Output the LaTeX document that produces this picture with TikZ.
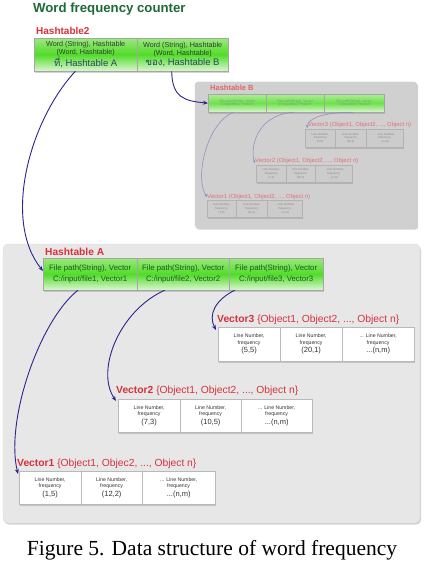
\documentclass[tikz,border=0pt]{standalone}
\usepackage{fontspec}
\setmainfont{Liberation Sans}
\newfontfamily\thaifont[Script=Thai]{Loma}
\newfontfamily\capfont{Liberation Serif}
\usetikzlibrary{shadows,calc,arrows.meta}
\definecolor{titlegreen}{RGB}{30,105,55}
\definecolor{lblred}{RGB}{215,50,60}
\definecolor{arrblue}{RGB}{45,35,140}
\definecolor{gTop}{RGB}{155,232,125}
\definecolor{gMid}{RGB}{82,220,42}
\definecolor{gBot}{RGB}{222,246,212}
\definecolor{panelA}{RGB}{231,231,231}
\definecolor{panelB}{RGB}{208,208,208}
\definecolor{txtA}{RGB}{25,90,30}
\definecolor{txtH}{RGB}{45,60,50}
\definecolor{txtH3}{RGB}{40,70,100}
\newcommand{\fsz}[1]{\fontsize{#1}{#1}\selectfont}
\begin{document}
\begin{tikzpicture}[x=1pt,y=-1pt,
  shad/.style={drop shadow={shadow xshift=1.2pt,shadow yshift=-1.6pt,opacity=0.35}},
  gcell/.style={draw=gray!70, line width=0.3pt, anchor=north west, inner sep=0pt, align=center,
     top color=gTop, bottom color=gBot, middle color=gMid, shad},
  gcellB/.style={draw=gray!70, line width=0.3pt, anchor=north west, inner sep=0pt, align=center,
     top color=gTop!80!white, bottom color=gBot, middle color=gMid!85!white, shad, text=txtA!60,
     font=\fsz{3.4}},
  vcell/.style={draw=gray!55, line width=0.3pt, fill=white, anchor=north west, inner sep=0pt, align=center, shad,
     font=\fontsize{5.2}{6.4}\selectfont, text=black!80},
  vcellB/.style={draw=gray!60, line width=0.3pt, fill=black!20, anchor=north west, inner sep=0pt, align=center, shad,
     font=\fontsize{2.9}{3.7}\selectfont, text=black!45},
  lbl/.style={anchor=base west, inner sep=0pt, text=lblred},
  arr/.style={draw=arrblue, line width=0.9pt, -{Stealth[length=5pt,width=4pt]}},
  arrB/.style={draw=arrblue!55, line width=0.5pt, -{Stealth[length=3pt,width=2.5pt]}},
  panel/.style={shad}
]
\useasboundingbox (0,0) rectangle (427,569);
\fill[white] (0,0) rectangle (427,569);

% title
\node[anchor=base west, inner sep=0pt, text=titlegreen, font=\bfseries\fsz{13.2}] (title) at (33,13) {Word frequency counter};

% Hashtable2
\node[lbl, font=\bfseries\fsz{10}] (h2lbl) at (36,35) {Hashtable2};
\node[gcell, minimum width=103pt, minimum height=33pt, text=txtH, font=\fontsize{7.2}{7.8}\selectfont] (h2a) at (34,38)
  {Word (String), Hashtable\\(Word, Hashtable)\\[0.3pt]{\color{txtH3}\fsz{9.5}{\thaifont ที่}, Hashtable A}};
\node[gcell, minimum width=91pt, minimum height=33pt, text=txtH, font=\fontsize{7.2}{7.8}\selectfont] (h2b) at (137,38)
  {Word (String), Hashtable\\(Word, Hashtable)\\[0.3pt]{\color{txtH3}\fsz{9.5}{\thaifont ของ}, Hashtable B}};

% Panel B
\filldraw[panel, fill=panelB, draw=gray!40, line width=0.3pt, rounded corners=3pt] (195,82) rectangle (417,228);
\node[lbl, text=lblred!75, font=\bfseries\fsz{7.5}] (hblbl) at (210,91) {Hashtable B};
\node[gcellB, minimum width=58pt, minimum height=18pt] (b1) at (208,94) {File path(String), Vector\\C:/input/file1, Vector1};
\node[gcellB, minimum width=58pt, minimum height=18pt] (b2) at (266,94) {File path(String), Vector\\C:/input/file2, Vector2};
\node[gcellB, minimum width=60pt, minimum height=18pt] (b3) at (324,94) {File path(String), Vector\\C:/input/file3, Vector3};

\node[lbl, text=lblred!70, font=\fsz{5.9}] (vb3lbl) at (308,127) {Vector3 (Object1, Object2, ..., Object n)};
\node[vcellB, minimum width=30pt, minimum height=18pt] (vb31) at (305,129) {Line Number,\\frequency\\(5,5)};
\node[vcellB, minimum width=31pt, minimum height=18pt] (vb32) at (335,129) {Line Number,\\frequency\\(20,1)};
\node[vcellB, minimum width=37pt, minimum height=18pt] (vb33) at (366,129) {... Line Number,\\frequency\\...(n,m)};

\node[lbl, text=lblred!70, font=\fsz{5.9}] (vb2lbl) at (255,163) {Vector2 (Object1, Object2, ..., Object n)};
\node[vcellB, minimum width=30pt, minimum height=17pt] (vb21) at (256,165) {Line Number,\\frequency\\(7,3)};
\node[vcellB, minimum width=29pt, minimum height=17pt] (vb22) at (286,165) {Line Number,\\frequency\\(10,5)};
\node[vcellB, minimum width=37pt, minimum height=17pt] (vb23) at (315,165) {... Line Number,\\frequency\\...(n,m)};

\node[lbl, text=lblred!70, font=\fsz{5.9}] (vb1lbl) at (207,198) {Vector1 (Object1, Object2, ..., Object n)};
\node[vcellB, minimum width=29pt, minimum height=17pt] (vb11) at (207,200) {Line Number,\\frequency\\(1,5)};
\node[vcellB, minimum width=31pt, minimum height=17pt] (vb12) at (236,200) {Line Number,\\frequency\\(12,2)};
\node[vcellB, minimum width=35pt, minimum height=17pt] (vb13) at (267,200) {... Line Number,\\frequency\\...(n,m)};

% Panel A
\filldraw[panel, fill=panelA, draw=gray!30, line width=0.3pt, rounded corners=5pt] (3,244) rectangle (420,523);
\node[lbl, font=\bfseries\fsz{10.2}] (halbl) at (45,255) {Hashtable A};
\node[gcell, minimum width=94pt, minimum height=32pt, text=txtA, font=\fontsize{7.8}{10.5}\selectfont] (a1) at (43,258) {File path(String), Vector\\C:/input/file1, Vector1};
\node[gcell, minimum width=92pt, minimum height=32pt, text=txtA, font=\fontsize{7.8}{10.5}\selectfont] (a2) at (137,258) {File path(String), Vector\\C:/input/file2, Vector2};
\node[gcell, minimum width=94pt, minimum height=32pt, text=txtA, font=\fontsize{7.8}{10.5}\selectfont] (a3) at (229,258) {File path(String), Vector\\C:/input/file3, Vector3};

\node[lbl, font=\fsz{10.3}] (v3lbl) at (217,322) {\textbf{Vector3} \{Object1, Object2, ..., Object n\}};
\node[vcell, minimum width=62pt, minimum height=34pt] (v31) at (218,327) {Line Number,\\frequency\\[1pt]{\fsz{7.5}(5,5)}};
\node[vcell, minimum width=62pt, minimum height=34pt] (v32) at (280,327) {Line Number,\\frequency\\[1pt]{\fsz{7.5}(20,1)}};
\node[vcell, minimum width=72pt, minimum height=34pt] (v33) at (342,327) {... Line Number,\\frequency\\[1pt]{\fsz{7.5}...(n,m)}};

\node[lbl, font=\fsz{10.3}] (v2lbl) at (116,393) {\textbf{Vector2} \{Object1, Object2, ..., Object n\}};
\node[vcell, minimum width=62pt, minimum height=33pt] (v21) at (118,399) {Line Number,\\frequency\\[1pt]{\fsz{7.5}(7,3)}};
\node[vcell, minimum width=61pt, minimum height=33pt] (v22) at (180,399) {Line Number,\\frequency\\[1pt]{\fsz{7.5}(10,5)}};
\node[vcell, minimum width=71pt, minimum height=33pt] (v23) at (241,399) {... Line Number,\\frequency\\[1pt]{\fsz{7.5}...(n,m)}};

\node[lbl, font=\fsz{10.3}] (v1lbl) at (17,466) {\textbf{Vector1} \{Object1, Objec2, ..., Object n\}};
\node[vcell, minimum width=62pt, minimum height=33pt] (v11) at (19,471) {Line Number,\\frequency\\[1pt]{\fsz{7.5}(1,5)}};
\node[vcell, minimum width=61pt, minimum height=33pt] (v12) at (81,471) {Line Number,\\frequency\\[1pt]{\fsz{7.5}(12,2)}};
\node[vcell, minimum width=73pt, minimum height=33pt] (v13) at (142,471) {... Line Number,\\frequency\\[1pt]{\fsz{7.5}...(n,m)}};

% arrows
\draw[arr] ($(h2a.south west)!0.4!(h2a.south east)$) .. controls (30,120) and (2,220) .. ($(a1.north west)+(0,13)$);
\draw[arr] ($(h2b.south west)!0.38!(h2b.south east)$) .. controls (172,98) and (185,101) .. (b1.west);
\draw[arr] ($(a3.south west)!0.06!(a3.south east)$) .. controls (215,300) and (208,315) .. ($(v31.north west)+(-2,3)$);
\draw[arr] ($(a2.south west)!0.3!(a2.south east)$) .. controls (120,310) and (95,370) .. ($(v21.north west)+(-2,2)$);
\draw[arr] ($(a1.south west)!0.37!(a1.south east)$) .. controls (40,320) and (5,420) .. ($(v11.north west)+(-1,3)$);
\draw[arrB] ($(b1.south west)!0.43!(b1.south east)$) .. controls (205,125) and (195,180) .. ($(vb11.north west)+(0,-3)$);
\draw[arrB] ($(b2.south west)!0.47!(b2.south east)$) .. controls (255,115) and (250,150) .. ($(vb21.north west)+(-1,-2)$);
\draw[arrB] ($(b3.south west)!0.48!(b3.south east)$) .. controls (325,112) and (308,118) .. ($(vb31.north west)+(2,-1)$);

% caption
\node[anchor=base, inner sep=0pt, font=\capfont\fsz{21.5}] (cap) at (212,555) {Figure 5. Data structure of word frequency};
\end{tikzpicture}
\end{document}
